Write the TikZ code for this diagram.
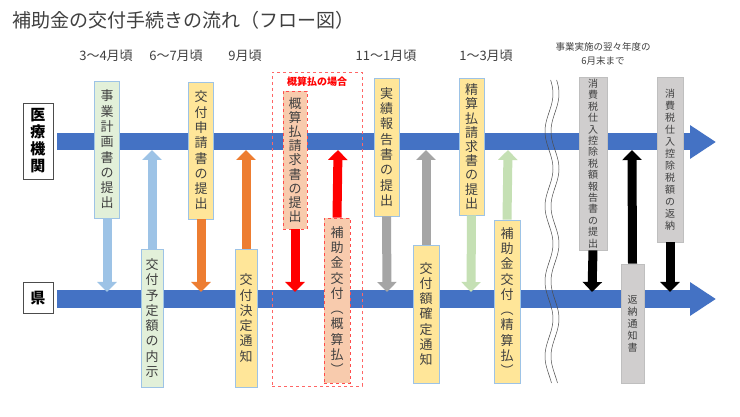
\documentclass[tikz,border=0pt]{standalone}
\usepackage{fontspec}
\setmainfont{Noto Sans CJK JP}
\usetikzlibrary{arrows.meta}
\definecolor{barblue}{HTML}{4472C4}
\definecolor{lblue}{HTML}{9DC3E6}
\definecolor{lgreen}{HTML}{E2F0D9}
\definecolor{mgreen}{HTML}{C5E0B4}
\definecolor{lyellow}{HTML}{FFE699}
\definecolor{orng}{HTML}{ED7D31}
\definecolor{lsalmon}{HTML}{F8CBAD}
\definecolor{lgray}{HTML}{D0CECE}
\definecolor{mgray}{HTML}{A5A5A5}
\definecolor{txt}{HTML}{404040}
\tikzset{
  vbox/.style={draw=#1, line width=0.8pt, inner sep=0pt, align=center, font=\fontsize{13}{15.3}\selectfont, text=txt, minimum width=25},
  sidebox/.style={draw=black!70, line width=0.8pt, fill=white, inner sep=0pt, align=center, font=\bfseries\fontsize{15}{17}\selectfont, minimum width=30},
  fat/.style={line width=9, draw=#1, -{Triangle[width=19,length=10]}},
  mainbar/.style={line width=17, draw=barblue, -{Triangle[width=32,length=26]}},
  tlabel/.style={font=\fontsize{13}{15}\selectfont, text=txt},
}
\begin{document}
\begin{tikzpicture}[x=1pt,y=-1pt]
\useasboundingbox[fill=white] (0,0) rectangle (740,417);
\node[anchor=west, font=\fontsize{19}{22}\selectfont, text=txt] (title) at (9,20) {補助金の交付手続きの流れ（フロー図）};
% time labels
\node[tlabel] (t1) at (106,56) {3〜4月頃};
\node[tlabel] (t2) at (176,56) {6〜7月頃};
\node[tlabel] (t3) at (245,56) {9月頃};
\node[tlabel] (t4) at (386,56) {11〜1月頃};
\node[tlabel] (t5) at (486,56) {1〜3月頃};
\node[tlabel, font=\fontsize{9.5}{14}\selectfont, align=center] (t6) at (603,54) {事業実施の翌々年度の\\6月末まで};
% bars
\coordinate (ts) at (57,142); \coordinate (te) at (716,142);
\coordinate (bs) at (57,299); \coordinate (be) at (716,299);
\draw[mainbar] (ts) -- (te);
\draw[mainbar] (bs) -- (be);
\node[sidebox, minimum height=76] (iryo) at (38,141) {医\\療\\機\\関};
\node[sidebox, minimum height=31] (ken) at (38,298) {県};
% dashed region
\node[draw=red!60, dashed, line width=0.6pt, minimum width=90, minimum height=314, inner sep=0pt] (region) at (317,229) {};
\node[text=red, font=\bfseries\fontsize{10}{12}\selectfont] (regl) at (317,82) {概算払の場合};
% wavy
\draw[black!70, line width=0.5pt, domain=80:383, samples=120] plot ({549+4*sin(\x*4.8)}, \x);
\draw[black!70, line width=0.5pt, domain=80:383, samples=120] plot ({555+4*sin(\x*4.8)}, \x);
% bar target coordinates
\foreach \n/\x in {1/107,3/201,6/295,8/387,10/471,13/592,15/670}{\coordinate (d\n) at (\x,292);}
\foreach \n/\x in {2/152,4/246,7/338,9/426,11/508,14/632}{\coordinate (u\n) at (\x,150);}
% boxes
\node[vbox=lblue, fill=lgreen, minimum height=137] (b1) at (107,149.5) {事\\業\\計\\画\\書\\の\\提\\出};
\node[vbox=lblue, fill=lgreen, minimum height=138, minimum width=22] (b2) at (152,318) {交\\付\\予\\定\\額\\の\\内\\示};
\node[vbox=lblue, fill=lyellow, minimum height=137] (b3) at (201,150.5) {交\\付\\申\\請\\書\\の\\提\\出};
\node[vbox=lblue, fill=lyellow, minimum height=138, minimum width=22] (b4) at (246,318) {交\\付\\決\\定\\通\\知};
\node[vbox=red!70, dashed, fill=lsalmon, minimum height=138, minimum width=24, font=\fontsize{13}{14.2}\selectfont] (b6) at (295,160) {概\\算\\払\\請\\求\\書\\の\\提\\出};
\node[vbox=red!70, dashed, fill=lsalmon, minimum height=165, minimum width=26] (b7) at (337,300.5) {補\\助\\金\\交\\付\\︵\\概\\算\\払\\︶};
\node[vbox=lblue, fill=lyellow, minimum height=138] (b8) at (386.5,147) {実\\績\\報\\告\\書\\の\\提\\出};
\node[vbox=lblue, fill=lyellow, minimum height=138, minimum width=26] (b9) at (426,314) {交\\付\\額\\確\\定\\通\\知};
\node[vbox=lblue, fill=lyellow, minimum height=137, font=\fontsize{13}{14.2}\selectfont] (b10) at (471.5,146.5) {精\\算\\払\\請\\求\\書\\の\\提\\出};
\node[vbox=lblue, fill=lyellow, minimum height=163, minimum width=26] (b11) at (507,301.5) {補\\助\\金\\交\\付\\︵\\精\\算\\払\\︶};
\node[vbox=black!25, fill=lgray, minimum height=173, minimum width=28, font=\fontsize{10}{11.4}\selectfont] (b13) at (593,163.5) {消\\費\\税\\仕\\入\\控\\除\\税\\額\\報\\告\\書\\の\\提\\出};
\node[vbox=black!25, fill=lgray, minimum height=119, minimum width=23, font=\fontsize{10}{12}\selectfont] (b14) at (632.5,323.5) {返\\納\\通\\知\\書};
\node[vbox=black!25, fill=lgray, minimum height=165, minimum width=26, font=\fontsize{10}{12}\selectfont] (b15) at (670,159.5) {消\\費\\税\\仕\\入\\控\\除\\税\\額\\の\\返\\納};
% arrows
\draw[fat=lblue] (b1.south) -- (d1);
\draw[fat=lblue] (b2.north) -- (u2);
\draw[fat=orng] (b3.south) -- (d3);
\draw[fat=orng] (b4.north) -- (u4);
\draw[fat=red] (b6.south) -- (d6);
\draw[fat=red] (b7.north) -- (u7);
\draw[fat=mgray] (b8.south) -- (d8);
\draw[fat=mgray] (b9.north) -- (u9);
\draw[fat=mgreen] (b10.south) -- (d10);
\draw[fat=mgreen] (b11.north) -- (u11);
\draw[fat=black] (b13.south) -- (d13);
\draw[fat=black] (b14.north) -- (u14);
\draw[fat=black] (b15.south) -- (d15);
\end{tikzpicture}
\end{document}
